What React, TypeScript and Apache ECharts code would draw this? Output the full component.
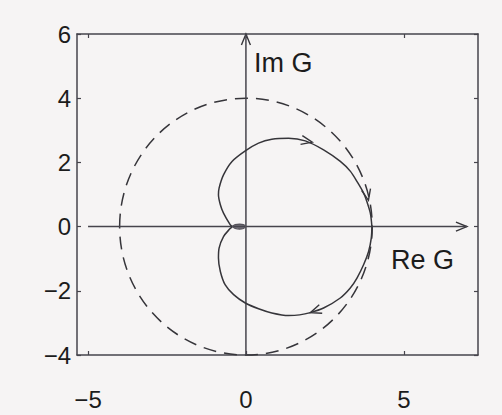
import React, { useEffect, useRef } from "react";
import * as echarts from "echarts";

// Tick positions on the box axes
const xTicks = [-5, 0, 5];
const yTicks = [-4, -2, 0, 2, 4, 6];

// Nyquist curve, traced clockwise from Re G = 4 (lower branch, then upper branch)
const reLower = [3.99, 3.97, 3.885, 3.726, 3.517, 3.305, 2.988, 2.459, 2.04, 1.7, 1.35, 0.82, 0.4, -0.02, -0.39, -0.66, -0.81, -0.87, -0.85, -0.71, -0.5, -0.44];
const imLower = [0.0, -0.36, -0.775, -1.189, -1.603, -1.914, -2.225, -2.537, -2.68, -2.75, -2.77, -2.69, -2.56, -2.38, -2.12, -1.81, -1.4, -0.98, -0.67, -0.31, -0.06, 0.0];
const reUpper = [-0.44, -0.5, -0.71, -0.81, -0.87, -0.85, -0.71, -0.44, -0.02, 0.4, 0.82, 1.35, 1.88, 2.46, 2.99, 3.31, 3.52, 3.73, 3.83, 3.94, 3.99];
const imUpper = [0.0, 0.06, 0.42, 0.68, 0.99, 1.2, 1.61, 2.03, 2.36, 2.6, 2.72, 2.75, 2.67, 2.39, 2.03, 1.72, 1.4, 1.04, 0.78, 0.42, 0.0];

// Small loop where the curve winds into the origin
const reLoop = [-0.44, -0.34, -0.2, -0.08, 0.0, -0.08, -0.2, -0.34, -0.44];
const imLoop = [0.0, 0.06, 0.08, 0.06, 0.0, -0.06, -0.08, -0.06, 0.0];

// Dashed reference circle: centre and radius
const circle = [[0, 0, 4]];

// Coordinate axes drawn inside the plot (Re G and Im G)
const reAxis = [[-5, 0], [7, 0]];
const imAxis = [[0, -4], [0, 6]];

// Direction markers: [tailRe, tailIm, tipRe, tipIm]
const arrows = [
  [1.7, 2.71, 2.1, 2.63],
  [3.84, 1.0, 3.88, 0.82],
  [2.45, -2.54, 2.04, -2.68],
  [0, 5.6, 0, 6],
  [6.6, 0, 7, 0],
];

const ink = "#36353a";
const axisInk = "#46444c";
const textInk = "#1c1c1c";
const font = "Liberation Sans, Arial, sans-serif";

const zip = (a: number[], b: number[]) => a.map((v, i) => [v, b[i]]);
const signed = (v: number) => (v < 0 ? "\u2212" + Math.abs(v) : String(v));

export default function App() {
  const ref = useRef<HTMLDivElement>(null);

  useEffect(() => {
    if (!ref.current) return;
    const chart = echarts.init(ref.current, undefined, { renderer: "svg" });
    const curve = [...zip(reLower, imLower), ...zip(reUpper, imUpper)];

    const boxAxis = {
      type: "value" as const,
      axisLine: { show: true, onZero: false, lineStyle: { color: axisInk, width: 1.5 } },
      splitLine: { show: false },
    };
    const tickStyle = { inside: true, length: 4, lineStyle: { color: axisInk, width: 1.2 } };

    chart.setOption({
      animation: false,
      backgroundColor: "#f6f4f4",
      grid: { left: 77, top: 34, right: 24, bottom: 60, containLabel: false },
      xAxis: [
        {
          ...boxAxis,
          position: "bottom",
          min: -5.35,
          max: 7.35,
          axisTick: { ...tickStyle, customValues: xTicks },
          axisLabel: {
            customValues: xTicks,
            margin: 32,
            fontSize: 24,
            color: textInk,
            fontFamily: font,
            formatter: signed,
          },
        },
        {
          ...boxAxis,
          position: "top",
          min: -5.35,
          max: 7.35,
          axisTick: { ...tickStyle, customValues: xTicks },
          axisLabel: { show: false },
        },
      ],
      yAxis: [
        {
          ...boxAxis,
          position: "left",
          min: -4,
          max: 6,
          interval: 2,
          axisTick: { ...tickStyle, customValues: yTicks },
          axisLabel: {
            customValues: yTicks,
            margin: 6,
            fontSize: 24,
            color: textInk,
            fontFamily: font,
            formatter: signed,
          },
        },
        {
          ...boxAxis,
          position: "right",
          min: -4,
          max: 6,
          interval: 2,
          axisTick: { ...tickStyle, customValues: yTicks },
          axisLabel: { show: false },
        },
      ],
      series: [
        {
          type: "line",
          data: reAxis,
          symbol: "none",
          lineStyle: { color: axisInk, width: 1.5 },
          silent: true,
        },
        {
          type: "line",
          data: imAxis,
          symbol: "none",
          lineStyle: { color: axisInk, width: 1.5 },
          silent: true,
        },
        {
          type: "custom",
          data: circle,
          encode: { x: 0, y: 1 },
          silent: true,
          clip: false,
          renderItem: (_p: any, api: any) => {
            const c = api.coord([api.value(0), api.value(1)]);
            const s = api.size([api.value(2), api.value(2)]);
            return {
              type: "ellipse",
              shape: { cx: c[0], cy: c[1], rx: s[0], ry: s[1] },
              style: { fill: "none", stroke: ink, lineWidth: 1.5, lineDash: [13, 8] },
            };
          },
        },
        {
          type: "line",
          data: curve,
          symbol: "none",
          smooth: 0.3,
          lineStyle: { color: ink, width: 1.5 },
          silent: true,
        },
        {
          type: "line",
          data: zip(reLoop, imLoop),
          symbol: "none",
          smooth: 0.3,
          lineStyle: { color: "#55525a", width: 1.2 },
          areaStyle: { color: "#5a5660", opacity: 0.85 },
          silent: true,
        },
        {
          type: "custom",
          data: arrows,
          encode: { x: [0, 2], y: [1, 3] },
          silent: true,
          clip: false,
          renderItem: (_p: any, api: any) => {
            const tail = api.coord([api.value(0), api.value(1)]);
            const tip = api.coord([api.value(2), api.value(3)]);
            const a = Math.atan2(tip[1] - tail[1], tip[0] - tail[0]);
            const L = 11;
            const W = 4.5;
            const bx = tip[0] - L * Math.cos(a);
            const by = tip[1] - L * Math.sin(a);
            const nx = -Math.sin(a) * W;
            const ny = Math.cos(a) * W;
            return {
              type: "polyline",
              shape: { points: [[bx + nx, by + ny], tip, [bx - nx, by - ny]] },
              style: { fill: "none", stroke: ink, lineWidth: 1.4 },
            };
          },
        },
      ],
      graphic: [
        {
          type: "text",
          x: 254,
          y: 62.5,
          style: {
            text: "Im G",
            fontSize: 27,
            fill: textInk,
            fontFamily: font,
            verticalAlign: "middle",
          },
        },
        {
          type: "text",
          x: 391,
          y: 260,
          style: {
            text: "Re G",
            fontSize: 27,
            fill: textInk,
            fontFamily: font,
            verticalAlign: "middle",
          },
        },
      ],
    });
    return () => chart.dispose();
  }, []);

  return (
    <div
      ref={ref}
      style={{ position: "fixed", left: 0, top: 0, width: 502, height: 415 }}
    />
  );
}
